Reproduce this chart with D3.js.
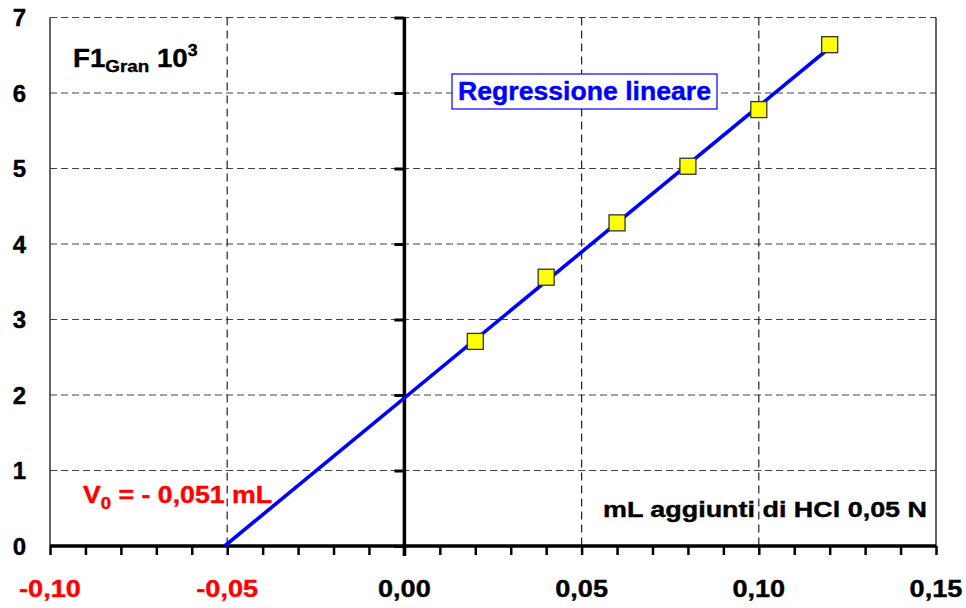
<!DOCTYPE html>
<html>
<head>
<meta charset="utf-8">
<script src="https://cdn.jsdelivr.net/npm/d3@7"></script>
<style>
  body { margin: 0; background: #fff; }
  text { font-family: Arial, "Liberation Sans", sans-serif; font-weight: bold; stroke-width: 0.4px; }
</style>
</head>
<body>
<svg width="966" height="608"></svg>
<script>
// Added mL of HCl and the Gran function (x 10^3)
const volumes = [0.02, 0.04, 0.06, 0.08, 0.10, 0.12]
const granValues = [2.71, 3.56, 4.28, 5.03, 5.78, 6.64]
const xTicks = [-0.10, -0.05, 0.00, 0.05, 0.10, 0.15]
const yTicks = [0, 1, 2, 3, 4, 5, 6, 7]

// Italian number format: comma as decimal mark, plain hyphen as minus
const it = d3.formatLocale({ decimal: ',', thousands: '.', grouping: [3], currency: ['', ' €'], minus: '-' })
const fmt2 = it.format('.2f')
const fmt3 = it.format('.3f')

const svg = d3.select('svg')
const x = d3.scaleLinear().domain([-0.10, 0.15]).range([50, 936])
const y = d3.scaleLinear().domain([0, 7]).range([546, 17.5])

// Stretch a text sideways so its width matches the picture
const stretch = (sel, k) =>
  sel.each(function () {
    const w = this.getComputedTextLength()
    d3.select(this).attr('textLength', w * k).attr('lengthAdjust', 'spacingAndGlyphs')
  })

// Least squares fit of the points
const mx = d3.mean(volumes)
const my = d3.mean(granValues)
const slope =
  d3.sum(volumes, (v, i) => (v - mx) * (granValues[i] - my)) /
  d3.sum(volumes, (v) => (v - mx) ** 2)
const intercept = my - slope * mx
const v0 = -intercept / slope

// Grid lines (dashed)
svg.append('g')
  .selectAll('line')
  .data(yTicks.filter((d) => d > 0))
  .enter()
  .append('line')
  .attr('x1', x(-0.10)).attr('x2', x(0.15))
  .attr('y1', (d) => y(d)).attr('y2', (d) => y(d))
  .attr('stroke', '#444').attr('stroke-width', 1.2)
  .attr('stroke-dasharray', '7,4')

svg.append('g')
  .selectAll('line')
  .data([-0.05, 0.05, 0.10])
  .enter()
  .append('line')
  .attr('x1', (d) => x(d)).attr('x2', (d) => x(d))
  .attr('y1', y(7)).attr('y2', y(0))
  .attr('stroke', '#222').attr('stroke-width', 1.2)
  .attr('stroke-dasharray', '8,5')

// Left and right borders
svg.append('g')
  .selectAll('line')
  .data([-0.10, 0.15])
  .enter()
  .append('line')
  .attr('x1', (d) => x(d)).attr('x2', (d) => x(d))
  .attr('y1', y(7)).attr('y2', y(0))
  .attr('stroke', '#333').attr('stroke-width', 1.5)

// Axis through x = 0 with ticks on the left
const yAxis = svg.append('g')
  .attr('transform', `translate(${x(0)},0)`)
  .call(d3.axisLeft(y).tickValues(yTicks).tickSize(10).tickFormat(''))
yAxis.select('.domain').attr('stroke-width', 3.5).attr('d', `M0,${y(7)}V${y(0) + 10}`)
yAxis.selectAll('.tick line').attr('stroke-width', 3)

// y labels at the left edge
svg.append('g')
  .selectAll('text')
  .data(yTicks)
  .enter()
  .append('text')
  .attr('x', 26)
  .attr('y', (d) => y(d))
  .attr('dy', '0.36em')
  .attr('text-anchor', 'end')
  .attr('font-size', 24)
  .attr('stroke', '#000')
  .text((d) => d)

// x axis with minor ticks every 0.01
const xAxis = svg.append('g')
  .attr('transform', `translate(0,${y(0)})`)
  .call(d3.axisBottom(x).tickValues(d3.range(-10, 16).map((d) => d / 100)).tickSize(9).tickFormat(''))
xAxis.select('.domain').attr('stroke-width', 3.5).attr('d', `M${x(-0.10)},0H${x(0.15)}`)
xAxis.selectAll('.tick line').attr('stroke-width', 2.5)

svg.append('g')
  .selectAll('text')
  .data(xTicks)
  .enter()
  .append('text')
  .attr('x', (d) => x(d))
  .attr('y', 597)
  .attr('text-anchor', 'middle')
  .attr('font-size', 24)
  .attr('fill', (d) => (d < 0 ? '#ff0000' : '#000'))
  .attr('stroke', (d) => (d < 0 ? '#ff0000' : '#000'))
  .text(fmt2)
  .call(stretch, 1.13)

// Regression line
svg.append('line')
  .attr('x1', x(v0)).attr('y1', y(0))
  .attr('x2', x(d3.max(volumes))).attr('y2', y(intercept + slope * d3.max(volumes)))
  .attr('stroke', '#0000ff').attr('stroke-width', 3.6)

// Points
svg.append('g')
  .selectAll('rect')
  .data(volumes)
  .enter()
  .append('rect')
  .attr('x', (d) => x(d) - 8)
  .attr('y', (d, i) => y(granValues[i]) - 8)
  .attr('width', 16).attr('height', 16)
  .attr('fill', '#ffff00')
  .attr('stroke', '#333').attr('stroke-width', 1.3)

// Labels
const title = svg.append('text').attr('x', 73).attr('y', 67).attr('font-size', 25).attr('stroke', '#000')
title.append('tspan').text('F1')
title.append('tspan').attr('font-size', 17).attr('dy', 5).text('Gran')
title.append('tspan').attr('dy', -5).attr('dx', 7).text('10')
title.append('tspan').attr('font-size', 16).attr('dy', -11).text('3')
title.call(stretch, 1.18)

svg.append('rect')
  .attr('x', 452).attr('y', 74).attr('width', 265).attr('height', 35)
  .attr('fill', '#fff').attr('stroke', '#0000ff').attr('stroke-width', 1.2)
svg.append('text')
  .attr('x', 458).attr('y', 100)
  .attr('font-size', 25)
  .attr('fill', '#0000ff').attr('stroke', '#0000ff')
  .text('Regressione lineare')
  .attr('textLength', 253).attr('lengthAdjust', 'spacingAndGlyphs')

const vLabel = svg.append('text').attr('x', 83).attr('y', 503).attr('font-size', 23)
  .attr('fill', '#ff0000').attr('stroke', '#ff0000')
vLabel.append('tspan').text('V')
vLabel.append('tspan').attr('font-size', 16).attr('dy', 6).text('0')
vLabel.append('tspan').attr('dy', -6).text(' = - ' + fmt3(Math.abs(v0)) + ' mL')
vLabel.call(stretch, 1.16)

svg.append('text')
  .attr('x', 603).attr('y', 517)
  .attr('font-size', 22)
  .attr('stroke', '#000')
  .text('mL aggiunti di HCl 0,05 N')
  .attr('textLength', 324).attr('lengthAdjust', 'spacingAndGlyphs')
</script>
</body>
</html>
